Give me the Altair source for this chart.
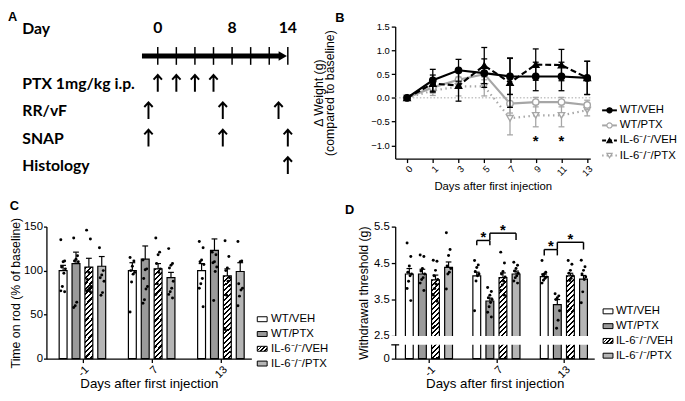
import altair as alt
import pandas as pd

FONT = "Liberation Sans"
A_FONT = "Lato"
LINE_GRAY = "#a6a6a6"
BAR_GRAY = "#9a9a9a"
STIPPLE_GRAY = "#b5b5b5"

SERIES = ["WT/VEH", "WT/PTX", "IL-6\u207b/\u207b/VEH", "IL-6\u207b/\u207b/PTX"]

# ---------------- Panel A (study timeline) ----------------
a_rows = ["Day", "timeline", "PTX 1mg/kg i.p.", "RR/vF", "SNAP", "Histology"]
a_day_numbers = [0, 8, 14]
a_tick_days = [0, 2, 4, 6, 8, 10, 12, 14]
a_timeline_span = [-1.7, 13.3]
a_ptx_days = [0, 2, 4, 6]
a_rrvf_days = [-1, 7, 13]
a_snap_days = [-1, 7, 14]
a_histology_days = [14]

# ---------------- Panel B (weight change) ----------------
b_day_labels = ["0", "1", "3", "5", "7", "9", "11", "13"]
b_wt_veh_mean = [0.0, 0.37, 0.58, 0.52, 0.45, 0.45, 0.45, 0.42]
b_wt_veh_sem = [0.0, 0.23, 0.23, 0.30, 0.38, 0.30, 0.30, 0.35]
b_wt_ptx_mean = [0.0, 0.22, 0.38, 0.50, -0.12, -0.09, -0.09, -0.15]
b_wt_ptx_sem = [0.0, 0.12, 0.15, 0.12, 0.20, 0.10, 0.10, 0.10]
b_il6_veh_mean = [0.0, 0.30, 0.26, 0.68, 0.32, 0.70, 0.69, 0.42]
b_il6_veh_sem = [0.0, 0.18, 0.33, 0.38, 0.52, 0.33, 0.33, 0.35]
b_il6_ptx_mean = [0.0, 0.15, 0.24, 0.24, -0.43, -0.37, -0.37, -0.26]
b_il6_ptx_sem = [0.0, 0.10, 0.20, 0.20, 0.35, 0.24, 0.24, 0.12]
b_star_idx = [5, 6]
b_star_level = [-0.85, -0.85]

# ---------------- Panel C (rotarod) ----------------
c_day_labels = ["-1", "7", "13"]
c_wt_veh_mean = [100, 100, 100]
c_wt_veh_sem = [6, 9, 8]
c_wt_ptx_mean = [108, 113, 123]
c_wt_ptx_sem = [13, 15, 13]
c_il6_veh_mean = [104, 102, 94]
c_il6_veh_sem = [10, 6, 8]
c_il6_ptx_mean = [105, 92, 99]
c_il6_ptx_sem = [11, 6, 10]
c_wt_veh_points = [[135, 111, 110, 104, 102, 97, 82, 77, 76],
                   [115, 111, 105, 100, 98, 96, 87, 53],
                   [133, 126, 112, 110, 107, 91, 85, 80, 59]]
c_wt_ptx_points = [[137, 117, 113, 111, 110, 64, 60, 58],
                   [112, 102, 101, 91, 82, 79, 67, 63],
                   [121, 118, 110, 109, 104, 99, 66]]
c_il6_veh_points = [[146, 136, 98, 90, 82, 80, 78, 77, 76],
                    [137, 121, 118, 108, 102, 98, 85, 73],
                    [134, 116, 103, 100, 92, 88, 72, 33]]
c_il6_ptx_points = [[126, 100, 95, 92, 88, 75, 72],
                    [125, 108, 106, 103, 88, 80, 76, 73, 69],
                    [133, 111, 110, 85, 80, 78, 71, 60]]

# ---------------- Panel D (von Frey) ----------------
d_day_labels = ["-1", "7", "13"]
d_wt_veh_mean = [4.20, 4.15, 4.13]
d_wt_veh_sem = [0.15, 0.10, 0.07]
d_wt_ptx_mean = [4.20, 3.46, 3.36]
d_wt_ptx_sem = [0.13, 0.08, 0.14]
d_il6_veh_mean = [4.04, 4.10, 4.15]
d_il6_veh_sem = [0.13, 0.13, 0.07]
d_il6_ptx_mean = [4.38, 4.20, 4.06]
d_il6_ptx_sem = [0.15, 0.08, 0.10]
d_wt_veh_points = [[5.05, 4.68, 4.42, 4.25, 4.2, 4.15, 4.0, 3.8, 3.47],
                   [4.57, 4.45, 4.38, 4.27, 4.2, 4.15, 4.01, 3.19],
                   [4.57, 4.25, 4.2, 4.18, 4.12, 4.08, 4.03, 3.95]]
d_wt_ptx_points = [[4.72, 4.68, 4.35, 4.28, 4.2, 4.1, 4.05, 3.95, 3.75],
                   [3.83, 3.72, 3.62, 3.55, 3.5, 3.42, 3.3, 3.15, 3.02],
                   [3.66, 3.6, 3.55, 3.5, 3.19, 2.93, 2.71]]
d_il6_veh_points = [[4.58, 4.55, 4.3, 4.15, 4.05, 3.92, 3.8, 3.62, 3.45],
                    [4.8, 4.5, 4.27, 4.2, 4.12, 4.0, 3.9, 3.75, 3.62],
                    [4.57, 4.47, 4.3, 4.22, 4.15, 4.08, 4.02, 3.45]]
d_il6_ptx_points = [[5.33, 4.87, 4.71, 4.42, 4.35, 4.25, 4.2, 3.79],
                    [4.52, 4.44, 4.35, 4.28, 4.22, 4.15, 4.1, 4.01, 3.95],
                    [4.58, 4.4, 4.3, 4.2, 4.12, 4.05, 3.71, 3.41]]
d_bracket_group = [1, 1, 2, 2]
d_bracket_from = [0, 1, 0, 1]
d_bracket_to = [1, 3, 1, 3]
d_bracket_level = [5.12, 5.32, 4.87, 5.07]
d_bracket_leg = [4.99, 5.13, 4.71, 4.87]
d_star_level = [5.29, 5.49, 5.05, 5.24]


# ---------------- helpers ----------------
def ax(**kw):
    d = dict(grid=False, domainColor="black", domainWidth=1.3, tickColor="black", tickWidth=1.3,
             tickSize=4, labelColor="black", titleColor="black", labelFont=FONT, titleFont=FONT,
             titleFontWeight="normal", labelPadding=2)
    d.update(kw)
    return alt.Axis(**d)


def panel_title(text, dx, offset):
    return alt.TitleParams(text, anchor="start", font=FONT, fontSize=13, fontWeight="bold",
                           color="black", dx=dx, offset=offset)


def index_scale(first_px, step_px, height):
    # quantitative scale for a row index: row 0 at first_px from the top, rows step_px apart
    d0 = -first_px / step_px
    return alt.Scale(domain=[d0, d0 + height / step_px], reverse=True, nice=False, zero=False)


def hatch(x2, y2, n, frac=0.42):
    stops = []
    for k in range(n):
        a, b, c = k / n, (k + frac) / n, (k + 1) / n
        stops += [alt.GradientStop(offset=a, color="black"), alt.GradientStop(offset=b, color="black"),
                  alt.GradientStop(offset=b, color="white"), alt.GradientStop(offset=c, color="white")]
    return alt.LinearGradient(gradient="linear", stops=stops, x1=0, y1=0, x2=x2, y2=y2)


RECT_PATH = "M-1,-0.5H1V0.5H-1Z"
ARROW_PATH = "M0,1V-1M-0.5,-0.45L0,-1L0.5,-0.45"
PH = 134  # plot height of B, C, D

# ---------------- Panel A ----------------
A_W, A_H = 250, 146
a_label_expr = "[" + ",".join("'%s'" % ("" if r == "timeline" else r) for r in a_rows) + "][datum.value]"
a_x = alt.X("day:Q", scale=alt.Scale(domain=[-11.985, 14.53], nice=False, zero=False), axis=None)
a_y = alt.Y("ri:Q", scale=index_scale(2, 27.8, A_H),
            axis=alt.Axis(title=None, domain=False, ticks=False, tickSize=0, labelPadding=25, grid=False,
                          minExtent=0, labelAlign="left", labelBaseline="middle", labelFlush=False,
                          labelOverlap=False, values=list(range(len(a_rows))), labelExpr=a_label_expr,
                          labelFont=A_FONT, labelFontWeight="bold", labelFontSize=16, labelColor="black",
                          labelLimit=300))


def a_df(pairs):
    return pd.DataFrame([{"ri": a_rows.index(r), "day": d} for r, d in pairs])


a_line = alt.Chart(a_df([("timeline", a_timeline_span[0])]).assign(day2=a_timeline_span[1])).mark_rule(
    color="black", strokeWidth=5).encode(x=a_x, x2="day2:Q", y=a_y)
a_head = alt.Chart(a_df([("timeline", a_timeline_span[1])])).mark_point(
    shape="triangle-right", filled=True, size=95, color="black", opacity=1, xOffset=1.5).encode(x=a_x, y=a_y)
a_ticks = alt.Chart(a_df([("timeline", d) for d in a_tick_days])).mark_point(
    shape="M0,-1V1", size=324, filled=False, strokeWidth=1.5, color="black", opacity=1).encode(x=a_x, y=a_y)
a_nums = alt.Chart(a_df([("Day", d) for d in a_day_numbers]).assign(
    label=[str(d) for d in a_day_numbers])).mark_text(
    font=A_FONT, fontWeight="bold", fontSize=16, align="center", baseline="middle", color="black").encode(
    x=a_x, y=a_y, text="label:N")
arrow_rows = ([("PTX 1mg/kg i.p.", d) for d in a_ptx_days] + [("RR/vF", d) for d in a_rrvf_days] +
              [("SNAP", d) for d in a_snap_days] + [("Histology", d) for d in a_histology_days])
a_arrows = alt.Chart(a_df(arrow_rows)).mark_point(
    shape=ARROW_PATH, size=289, filled=False, strokeWidth=2, color="black", opacity=1).encode(x=a_x, y=a_y)
panel_a = alt.layer(a_line, a_ticks, a_head, a_nums, a_arrows).properties(
    width=A_W, height=A_H, title=panel_title("A", -14, -3))

# ---------------- Panel B ----------------
B_W = 198
b_means = [b_wt_veh_mean, b_wt_ptx_mean, b_il6_veh_mean, b_il6_ptx_mean]
b_sems = [b_wt_veh_sem, b_wt_ptx_sem, b_il6_veh_sem, b_il6_ptx_sem]
b_df = pd.DataFrame([{"series": s, "si": i, "idx": j, "v": b_means[i][j], "sem": b_sems[i][j]}
                     for i, s in enumerate(SERIES) for j in range(len(b_day_labels))])
b_xscale = alt.Scale(domain=[-0.46, 7.12], nice=False, zero=False)
b_yscale = alt.Scale(domain=[-1.28, 1.5], nice=False, zero=False)
b_label_expr = "[" + ",".join("'%s'" % d for d in b_day_labels) + "][datum.value]"
b_xaxis = ax(values=list(range(len(b_day_labels))), labelExpr=b_label_expr, labelAngle=315,
             labelFontSize=9.5, titleFontSize=11.5, titlePadding=3, labelPadding=1,
             title="Days after first injection")
b_yaxis = ax(values=[-1, -0.5, 0, 0.5, 1, 1.5], format=".1f", labelFontSize=9.5, titleFontSize=12.5,
             titleLineHeight=11, title=["\u0394 Weight (g)", "(compared to baseline)"], titlePadding=35)


def bx(f):
    return alt.X("%s:Q" % f, scale=b_xscale, axis=b_xaxis)


def by(f):
    return alt.Y("%s:Q" % f, scale=b_yscale, axis=b_yaxis)


b_styles = {
    0: dict(color="black", dash=None, shape="circle", filled=True),
    1: dict(color=LINE_GRAY, dash=None, shape="circle", filled=False),
    2: dict(color="black", dash=[6, 3], shape="triangle-up", filled=True),
    3: dict(color=LINE_GRAY, dash=[1.5, 3.5], shape="triangle-down", filled=False),
}
B_CAP = 0.115
b_layers = [alt.Chart(pd.DataFrame({"v": [0.0]})).mark_rule(
    color="#c4c4c4", strokeWidth=1.5, strokeDash=[1.5, 2]).encode(y=by("v"))]
for si in [3, 1, 2, 0]:
    st = b_styles[si]
    base = alt.Chart(b_df).transform_filter("datum.si == %d" % si).transform_calculate(
        lo="datum.v - datum.sem", hi="datum.v + datum.sem",
        xl="datum.idx - %f" % B_CAP, xr="datum.idx + %f" % B_CAP)
    eb = base.transform_filter("datum.sem > 0")
    b_layers.append(eb.mark_rule(color=st["color"], strokeWidth=1.3).encode(x=bx("idx"), y=by("lo"), y2="hi:Q"))
    b_layers.append(eb.mark_rule(color=st["color"], strokeWidth=1.3).encode(x=bx("xl"), x2="xr:Q", y=by("hi")))
    b_layers.append(eb.mark_rule(color=st["color"], strokeWidth=1.3).encode(x=bx("xl"), x2="xr:Q", y=by("lo")))
    lk = dict(color=st["color"], strokeWidth=2.2)
    if st["dash"]:
        lk["strokeDash"] = st["dash"]
    b_layers.append(base.mark_line(**lk).encode(x=bx("idx"), y=by("v")))
    b_layers.append(base.mark_point(shape=st["shape"], filled=True,
                                    fill=st["color"] if st["filled"] else "white",
                                    stroke=st["color"], strokeWidth=1.4, size=42, opacity=1).encode(
        x=bx("idx"), y=by("v")))
b_layers.append(alt.Chart(pd.DataFrame({"idx": b_star_idx, "v": b_star_level})).mark_text(
    text="*", font=FONT, fontSize=15, fontWeight="bold", baseline="alphabetic", dy=8, color="black").encode(
    x=bx("idx"), y=by("v")))
panel_b = alt.layer(*b_layers).properties(width=B_W, height=PH, title=panel_title("B", 23, -3))

# legend B
bl_df = pd.DataFrame({"series": SERIES, "bi": list(range(4))})
bl_y = alt.Y("bi:Q", scale=index_scale(85, 15.3, PH), axis=None)
bl_layers = []
for si in range(4):
    st = b_styles[si]
    sub = alt.Chart(bl_df).transform_filter("datum.bi == %d" % si)
    rk = dict(color=st["color"], strokeWidth=2)
    if st["dash"]:
        rk["strokeDash"] = [4, 2] if si == 2 else [1.5, 3]
    bl_layers.append(sub.mark_rule(**rk).encode(x=alt.value(4), x2=alt.value(19), y=bl_y))
    bl_layers.append(sub.mark_point(shape=st["shape"], filled=True,
                                    fill=st["color"] if st["filled"] else "white",
                                    stroke=st["color"], strokeWidth=1.2, size=28, opacity=1).encode(
        x=alt.value(11.5), y=bl_y))
bl_layers.append(alt.Chart(bl_df).mark_text(align="left", baseline="middle", font=FONT, fontSize=11.5,
                                            color="black").encode(x=alt.value(22), y=bl_y, text="series:N"))
legend_b = alt.layer(*bl_layers).properties(width=60, height=PH)


# ---------------- bar panels C and D ----------------
def bar_panel(means, sems, points, stride, hw, cap, x_scale, x_axis, y_scale, y_axis, fills, W, H, title,
              extra=None):
    bars = pd.DataFrame([{"gi": g, "si": i, "v": means[i][g], "sem": sems[i][g]}
                         for i in range(4) for g in range(3)])
    pts = pd.DataFrame([{"gi": g, "si": i, "k": k, "v": v}
                        for i in range(4) for g in range(3) for k, v in enumerate(points[i][g])])
    pos = "datum.gi + (datum.si - 1.5) * %f" % stride

    def X(f):
        return alt.X("%s:Q" % f, scale=x_scale, axis=x_axis)

    def Y(f):
        return alt.Y("%s:Q" % f, scale=y_scale, axis=y_axis)

    base = alt.Chart(bars).transform_calculate(pos=pos).transform_calculate(
        x1="datum.pos - %f" % hw, x2="datum.pos + %f" % hw, zero="0", top="datum.v + datum.sem",
        cl="datum.pos - %f" % cap, cr="datum.pos + %f" % cap)
    layers = []
    for i in range(4):
        layers.append(base.transform_filter("datum.si == %d" % i).mark_bar(
            fill=fills[i], stroke="black", strokeWidth=1.2, opacity=1).encode(
            x=X("x1"), x2="x2:Q", y=Y("v"), y2="zero:Q"))
    layers.append(base.mark_rule(color="black", strokeWidth=1.2).encode(x=X("pos"), y=Y("v"), y2="top:Q"))
    layers.append(base.mark_rule(color="black", strokeWidth=1.2).encode(x=X("cl"), x2="cr:Q", y=Y("top")))
    layers.append(alt.Chart(pts).transform_calculate(
        pos=pos + " + (((datum.k * 5) % 7) - 3) * 0.011").mark_circle(
        size=9, color="black", opacity=1).encode(x=X("pos"), y=Y("v")))
    if extra:
        layers += extra(X, Y)
    return alt.layer(*layers).properties(width=W, height=H, title=title)


def bar_legend(fills, field, first, W, H, font_size, text_x):
    df = pd.DataFrame({"series": SERIES, field: list(range(4))})
    Yl = alt.Y("%s:Q" % field, scale=index_scale(first, 15, H), axis=None)
    layers = []
    for i in range(4):
        layers.append(alt.Chart(df).transform_filter("datum.%s == %d" % (field, i)).mark_point(
            shape=RECT_PATH, size=100, filled=True, fill=fills[i], stroke="black", strokeWidth=1,
            opacity=1).encode(x=alt.value(5), y=Yl))
    layers.append(alt.Chart(df).mark_text(align="left", baseline="middle", font=FONT, fontSize=font_size,
                                          color="black").encode(x=alt.value(text_x), y=Yl, text="series:N"))
    return alt.layer(*layers).properties(width=W, height=H)


legend_fills = ["white", BAR_GRAY, hatch(1.2, 0.6, 4), STIPPLE_GRAY]
bar_label_expr = "[" + ",".join("'%s'" % d for d in c_day_labels) + "][datum.value]"

# C
C_W = 208
c_means = [c_wt_veh_mean, c_wt_ptx_mean, c_il6_veh_mean, c_il6_ptx_mean]
c_sems = [c_wt_veh_sem, c_wt_ptx_sem, c_il6_veh_sem, c_il6_ptx_sem]
c_points = [c_wt_veh_points, c_wt_ptx_points, c_il6_veh_points, c_il6_ptx_points]
c_xaxis = ax(values=[0, 1, 2], labelExpr=bar_label_expr, labelAngle=315, labelFontSize=11,
             labelPadding=1, titleFontSize=13.5, titlePadding=-3, title="Days after first injection")
c_yaxis = ax(values=[0, 50, 100, 150], labelFontSize=11.5, titleFontSize=12.5, tickSize=3,
             labelPadding=1, title="Time on rod (% of baseline)", titlePadding=1)
panel_c = bar_panel(c_means, c_sems, c_points, 0.186, 0.057, 0.042,
                    alt.Scale(domain=[-0.52, 2.44], nice=False, zero=False), c_xaxis,
                    alt.Scale(domain=[0, 150], nice=False, zero=False), c_yaxis,
                    ["white", BAR_GRAY, hatch(0.098, 1.09, 19), STIPPLE_GRAY], C_W, PH,
                    panel_title("C", 0, 4))
legend_c = bar_legend(legend_fills, "ci", 94, 60, PH, 11.5, 14)

# D
D_W = 202
d_means = [d_wt_veh_mean, d_wt_ptx_mean, d_il6_veh_mean, d_il6_ptx_mean]
d_sems = [d_wt_veh_sem, d_wt_ptx_sem, d_il6_veh_sem, d_il6_ptx_sem]
d_points = [d_wt_veh_points, d_wt_ptx_points, d_il6_veh_points, d_il6_ptx_points]
d_xaxis = ax(values=[0, 1, 2], labelExpr=bar_label_expr, labelAngle=315, labelFontSize=11,
             labelPadding=1, titleFontSize=13.5, titlePadding=-3, title="Days after first injection")
d_yaxis = ax(values=[0, 2.5, 3.5, 4.5, 5.5], labelFontSize=11.5, titleFontSize=12.5,
             labelExpr="datum.value == 0 ? '0' : format(datum.value, '.1f')",
             title="Withdrawal threshold (g)", titlePadding=3)
D_STRIDE = 0.194


def d_extra(X, Y):
    br = pd.DataFrame({"gi": d_bracket_group, "a": d_bracket_from, "b": d_bracket_to,
                       "level": d_bracket_level, "leg": d_bracket_leg, "star": d_star_level})
    bb = alt.Chart(br).transform_calculate(
        xa="datum.gi + (datum.a - 1.5) * %f" % D_STRIDE,
        xb="datum.gi + (datum.b - 1.5) * %f" % D_STRIDE).transform_calculate(
        xm="(datum.xa + datum.xb) / 2")
    rk = dict(color="black", strokeWidth=1.5)
    return [
        alt.Chart(pd.DataFrame({"lo": [0.53], "hi": [2.47]})).mark_rect(color="white").encode(
            x=alt.value(-6), x2=alt.value(D_W + 2), y=Y("lo"), y2="hi:Q"),
        alt.Chart(pd.DataFrame({"v": [0.5]})).mark_rule(color="black", strokeWidth=1.3).encode(
            x=alt.value(-4), x2=alt.value(4), y=Y("v")),
        bb.mark_rule(**rk).encode(x=X("xa"), x2="xb:Q", y=Y("level")),
        bb.mark_rule(**rk).encode(x=X("xa"), y=Y("leg"), y2="level:Q"),
        bb.mark_rule(**rk).encode(x=X("xb"), y=Y("leg"), y2="level:Q"),
        bb.mark_text(text="*", font=FONT, fontSize=15, fontWeight="bold", baseline="alphabetic",
                     dy=8, color="black").encode(x=X("xm"), y=Y("star")),
    ]


panel_d = bar_panel(d_means, d_sems, d_points, D_STRIDE, 0.058, 0.042,
                    alt.Scale(domain=[-0.50, 2.45], nice=False, zero=False), d_xaxis,
                    alt.Scale(domain=[0, 0.5, 2.5, 5.5], range=[PH, PH - 14, PH - 23, 0],
                              nice=False, zero=False),
                    d_yaxis, ["white", BAR_GRAY, hatch(0.107, 1.098, 18), STIPPLE_GRAY], D_W, PH,
                    panel_title("D", -13, 4), extra=d_extra)
legend_d = bar_legend(legend_fills, "di", 86, 60, PH, 11.5, 13)

IND = dict(x="independent", y="independent")
row1 = alt.hconcat(panel_a, alt.hconcat(panel_b, legend_b, spacing=4).resolve_scale(**IND),
                   spacing=15).resolve_scale(**IND)
row2 = alt.hconcat(alt.hconcat(panel_c, legend_c, spacing=4).resolve_scale(**IND),
                   alt.hconcat(panel_d, legend_d, spacing=5).resolve_scale(**IND),
                   spacing=17).resolve_scale(**IND)
chart = alt.vconcat(row1, row2, spacing=8).resolve_scale(**IND).properties(padding=0).configure(
    font=FONT, view=alt.ViewConfig(stroke=None))

chart.save("out.html", embed_options={"renderer": "svg", "actions": False})
